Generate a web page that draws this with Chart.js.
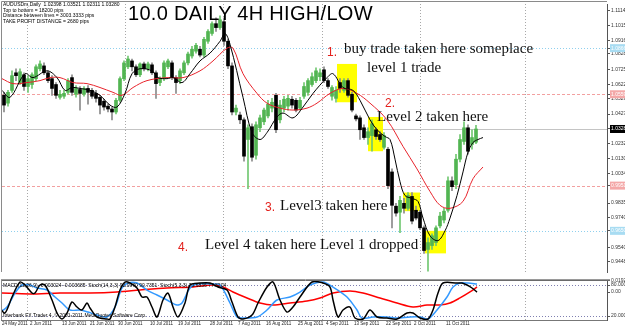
<!DOCTYPE html>
<html><head><meta charset="utf-8">
<script src="https://cdn.jsdelivr.net/npm/chart.js@4.4.1/dist/chart.umd.min.js"></script>
<style>
html,body{margin:0;padding:0;background:#fff;width:625px;height:328px;overflow:hidden;position:relative}
canvas{position:absolute;left:0}
#c1{top:0}
#c2{top:276px}
.t{position:absolute;white-space:nowrap}
.info{font:5px "Liberation Sans",Arial,sans-serif;color:#000;line-height:6px;left:3px}
.ser{font:15px "Liberation Serif","Times New Roman",serif;color:#111;line-height:15px}
.num{font:12px "Liberation Sans",Arial,sans-serif;color:#e3201c;line-height:12px}
.ttl{font:20px "Liberation Sans",Arial,sans-serif;color:#000;line-height:20px;letter-spacing:0.3px}
</style></head>
<body>
<canvas id="c1" width="625" height="276" style="width:625px;height:276px"></canvas>
<canvas id="c2" width="625" height="52" style="width:625px;height:52px"></canvas>

<div class="t info" style="top:1px">AUDUSDm,Daily&nbsp; 1.02398 1.03521 1.02311 1.03280</div>
<div class="t info" style="top:7px">Top to bottom = 18200 pips</div>
<div class="t info" style="top:12px">Distance between lines = 3003.3333 pips</div>
<div class="t info" style="top:18px">TAKE PROFIT DISTANCE = 2680 pips</div>
<div class="t ttl" style="left:128px;top:3px">10.0 DAILY 4H HIGH/LOW</div>
<div class="t num" style="left:327px;top:46px">1.</div>
<div class="t ser" style="left:344px;top:41px">buy trade taken here someplace</div>
<div class="t ser" style="left:367px;top:60px">level 1 trade</div>
<div class="t num" style="left:385px;top:97px">2.</div>
<div class="t ser" style="left:377px;top:109px">Level 2 taken here</div>
<div class="t num" style="left:265px;top:201px">3.</div>
<div class="t ser" style="left:280px;top:198px">Level3 taken here</div>
<div class="t num" style="left:178px;top:241px">4.</div>
<div class="t ser" style="left:205px;top:237px">Level 4 taken here Level 1 dropped</div>
<div class="t info" style="top:282px">MACD(12,26,9) -0.003024 -0.003685&nbsp; Stoch(14,3,3) 92.0970 90.7351&nbsp; Stoch(5,3,3) 73.6836 77.8204</div>
<div class="t info" style="top:312px">Interbank FX Trader 4, © 2001-2011 MetaQuotes Software Corp.</div>

<script>
// ---------- data ----------
const dateLabels = ['24 May 2011','2 Jun 2011','13 Jun 2011','21 Jun 2011','30 Jun 2011','10 Jul 2011','19 Jul 2011','28 Jul 2011','7 Aug 2011','16 Aug 2011','25 Aug 2011','4 Sep 2011','13 Sep 2011','22 Sep 2011','2 Oct 2011','11 Oct 2011'];
const dateBars = [0,7,15,22,29,37,44,52,59,66,74,81,88,96,103,111];

const open = [1.0552,1.0500,1.0585,1.0702,1.0637,1.0689,1.0611,1.0624,1.0663,1.0729,
1.0748,1.0702,1.0663,1.0624,1.0539,1.0546,1.0572,1.0670,1.0559,1.0591,
1.0559,1.0598,1.0585,1.0565,1.0539,1.0513,1.0480,1.0461,1.0441,1.0519,
1.0663,1.0742,1.0781,1.0742,1.0689,1.0761,1.0729,1.0755,1.0702,1.0637,
1.0663,1.0742,1.0768,1.0670,1.0650,1.0702,1.0768,1.0814,1.0846,1.0859,
1.0820,1.0912,1.0964,1.1029,1.1003,1.1042,1.0912,1.0748,1.0441,1.0421,
1.0389,1.0258,1.0343,1.0153,1.0336,1.0376,1.0415,1.0467,1.0552,1.0389,
1.0467,1.0480,1.0526,1.0519,1.0467,1.0546,1.0572,1.0624,1.0650,1.0676,
1.0722,1.0650,1.0546,1.0532,1.0637,1.0585,1.0650,1.0559,1.0415,1.0402,
1.0336,1.0271,1.0284,1.0323,1.0291,1.0206,1.0193,1.0042,0.9814,0.9774,
0.9833,0.9800,0.9879,0.9787,0.9774,0.9670,0.9526,0.9552,0.9572,0.9683,
0.9722,0.9787,0.9983,0.9957,1.0127,1.0245,1.0336,1.0225,1.0240];
const high = [1.0572,1.0585,1.0715,1.0729,1.0729,1.0702,1.0683,1.0702,1.0755,1.0781,
1.0768,1.0715,1.0683,1.0637,1.0585,1.0585,1.0663,1.0689,1.0617,1.0611,
1.0611,1.0617,1.0598,1.0585,1.0552,1.0526,1.0493,1.0474,1.0532,1.0676,
1.0781,1.0814,1.0794,1.0755,1.0768,1.0774,1.0774,1.0768,1.0715,1.0676,
1.0781,1.0794,1.0781,1.0683,1.0729,1.0781,1.0840,1.0879,1.0898,1.0879,
1.0938,1.0990,1.1042,1.1068,1.1082,1.1068,1.0925,1.0768,1.0487,1.0441,
1.0402,1.0356,1.0363,1.0376,1.0421,1.0467,1.0519,1.0532,1.0565,1.0519,
1.0546,1.0552,1.0546,1.0532,1.0539,1.0637,1.0663,1.0702,1.0735,1.0729,
1.0742,1.0663,1.0617,1.0611,1.0663,1.0663,1.0663,1.0572,1.0428,1.0415,
1.0356,1.0336,1.0389,1.0336,1.0310,1.0304,1.0206,1.0062,0.9833,0.9879,
0.9866,0.9905,0.9905,0.9814,0.9787,0.9683,0.9604,0.9630,0.9683,0.9774,
0.9800,1.0010,1.0010,1.0160,1.0291,1.0376,1.0356,1.0323,1.0352];
const low = [1.0441,1.0480,1.0572,1.0650,1.0624,1.0585,1.0572,1.0598,1.0650,1.0715,
1.0689,1.0637,1.0552,1.0532,1.0526,1.0532,1.0559,1.0552,1.0539,1.0454,
1.0546,1.0493,1.0532,1.0506,1.0428,1.0454,1.0441,1.0389,1.0428,1.0506,
1.0650,1.0729,1.0715,1.0676,1.0676,1.0715,1.0715,1.0689,1.0532,1.0617,
1.0650,1.0729,1.0657,1.0565,1.0630,1.0689,1.0755,1.0800,1.0833,1.0807,
1.0807,1.0898,1.0951,1.0977,1.0990,1.0885,1.0729,1.0421,1.0421,1.0363,
1.0114,0.9931,1.0114,1.0127,1.0310,1.0356,1.0402,1.0441,1.0304,1.0369,
1.0441,1.0454,1.0467,1.0441,1.0454,1.0532,1.0552,1.0611,1.0637,1.0650,
1.0637,1.0598,1.0519,1.0506,1.0572,1.0572,1.0539,1.0441,1.0382,1.0258,
1.0258,1.0225,1.0180,1.0258,1.0245,1.0193,0.9931,0.9670,0.9748,0.9637,
0.9768,0.9787,0.9696,0.9722,0.9657,0.9500,0.9382,0.9526,0.9552,0.9670,
0.9702,0.9774,0.9918,0.9931,1.0108,1.0225,1.0160,1.0193,1.0231];
const close = [1.0487,1.0572,1.0683,1.0683,1.0709,1.0611,1.0663,1.0689,1.0742,1.0761,
1.0702,1.0650,1.0598,1.0552,1.0559,1.0565,1.0650,1.0572,1.0598,1.0565,
1.0598,1.0572,1.0546,1.0532,1.0487,1.0474,1.0461,1.0441,1.0519,1.0663,
1.0768,1.0794,1.0742,1.0689,1.0761,1.0729,1.0761,1.0702,1.0630,1.0663,
1.0768,1.0781,1.0670,1.0637,1.0715,1.0768,1.0827,1.0859,1.0885,1.0820,
1.0925,1.0977,1.1029,1.1003,1.1055,1.0912,1.0748,1.0441,1.0467,1.0389,
1.0147,1.0336,1.0140,1.0356,1.0402,1.0454,1.0493,1.0506,1.0323,1.0487,
1.0526,1.0532,1.0487,1.0454,1.0519,1.0611,1.0650,1.0676,1.0715,1.0702,
1.0650,1.0611,1.0604,1.0585,1.0598,1.0650,1.0552,1.0454,1.0395,1.0323,
1.0271,1.0310,1.0363,1.0278,1.0258,1.0284,0.9951,0.9820,0.9768,0.9853,
0.9800,0.9885,0.9715,0.9735,0.9670,0.9519,0.9572,0.9617,0.9670,0.9748,
0.9781,0.9983,0.9944,1.0127,1.0258,1.0336,1.0180,1.0271,1.0328];

// moving averages, read as [bar, price]
const maFast = [[-0.5,1.0585],[1.5,1.0539],[5.25,1.0696],[7.25,1.0670],[10.75,1.0715],[13.25,1.0670],[15.25,1.0585],[17,1.0604],[19,1.0598],[21.5,1.0585],[24,1.0552],[26.5,1.0487],[28.25,1.0474],[30.25,1.0565],[32,1.0696],[34,1.0729],[37,1.0715],[38.5,1.0670],[40.75,1.0663],[42.25,1.0670],[44.5,1.0637],[46.5,1.0696],[49,1.0781],[51.5,1.0833],[54,1.0912],[55.25,1.0964],[56.5,1.0892],[59.75,1.0539],[62,1.0304],[64,1.0258],[65.75,1.0304],[68.25,1.0408],[69.75,1.0434],[72.25,1.0402],[74.75,1.0474],[77.25,1.0565],[80.75,1.0670],[82.25,1.0696],[84.75,1.0604],[87.25,1.0585],[89,1.0519],[91.5,1.0389],[93.25,1.0323],[95.25,1.0278],[96.5,1.0258],[97.75,1.0127],[99,0.9977],[100.25,0.9885],[102,0.9866],[103.5,0.9846],[104.75,0.9735],[106.5,0.9617],[108.5,0.9585],[110.25,0.9650],[111.5,0.9735],[113.25,0.9885],[114.75,1.0042],[116,1.0173],[117.25,1.0238],[118.5,1.0258],[119.75,1.0271]];
const maSlow = [[-0.5,1.0663],[2.25,1.0630],[5.75,1.0637],[9,1.0650],[11.5,1.0670],[14,1.0670],[17.25,1.0637],[20.75,1.0630],[24,1.0604],[27.25,1.0572],[29.5,1.0552],[32.25,1.0604],[35.75,1.0650],[40.75,1.0670],[44.75,1.0670],[49,1.0715],[52.25,1.0781],[55.75,1.0866],[57.25,1.0866],[59.75,1.0696],[63.25,1.0565],[65.75,1.0500],[69,1.0467],[72.25,1.0454],[75.75,1.0467],[78.25,1.0500],[81.5,1.0565],[84.75,1.0598],[88.25,1.0565],[91.5,1.0500],[95.75,1.0389],[99.75,1.0212],[103.25,1.0062],[106.5,0.9912],[109,0.9820],[111.5,0.9800],[114.75,0.9846],[117.25,0.9997],[119.75,1.0075]];

// horizontal level lines and price-axis ticks
const levelPrices = [1.0866, 1.0559, 1.0328, 0.9951, 0.9650];
const priceTicks = [1.1114,1.1015,1.0916,1.0828,1.0725,1.0622,1.0529,1.0427,1.0232,1.0130,1.0034,0.9835,0.9740,0.9540,0.9448];

// highlighted zones: [first bar, last bar] and [top price, bottom price]
const zoneBars = [[83.25,88.25],[91,94.75],[99.75,104],[105.25,110.5]];
const zonePrices = [[1.0761,1.0506],[1.0408,1.0180],[0.9905,0.9781],[0.9650,0.9500]];

// indicator window
const stochMain = [[-1,35.5],[0.25,25.8],[2,56.8],[4,85.8],[5.25,80],[7,64.5],[7.75,64.5],[9,80],[10.25,80],[12,51],[13.25,25.8],[14.5,14.2],[15.75,25.8],[17,47.1],[18.25,37.4],[19.5,31.6],[20.75,45.2],[21.5,35.5],[23.25,18.1],[25.75,14.2],[26.5,14.2],[27.75,37.4],[29,70.3],[30.25,85.8],[31.5,83.9],[33.25,74.2],[34.5,56.8],[35.75,56.8],[37,37.4],[38.25,18.1],[39.75,51],[41,64.5],[42.25,37.4],[43.5,18.1],[45.25,45.2],[46.5,80],[49,83.9],[51.5,83.9],[53.5,76.1],[55.75,70.3],[57,47.1],[58.5,18.1],[59.75,14.2],[62,21.9],[63.5,45.2],[65.75,76.1],[67.25,85.8],[69,51],[70.75,27.7],[72.25,37.4],[74,56.8],[77,85.8],[79.75,83.9],[81.5,76.1],[82.25,51],[83.5,18.1],[84.75,31.6],[86.5,37.4],[87.75,16.1],[89.75,14.2],[91.5,31.6],[93.25,18.1],[95.75,16.1],[98.25,14.2],[100.75,25.8],[102.25,25.8],[104,16.1],[106,14.2],[107.25,31.6],[108.5,64.5],[109.75,83.9],[113.25,83.9],[114.5,83.9],[115.75,80],[117,74.2],[118.25,66.4]];
const stochSignal = [[-1,27.7],[0.75,37.4],[2.75,64.5],[4.5,80],[6.5,80],[8.25,74.2],[10.75,70.3],[12.75,56.8],[14.5,45.2],[16.5,31.6],[19,31.6],[21,27.7],[23.25,21.9],[25.75,18.1],[27.75,37.4],[29.5,74.2],[31,83.9],[33.25,83.9],[35.75,70.3],[38.25,60.6],[40.75,51],[43.25,41.3],[44.5,45.2],[46.5,74.2],[48.25,82],[51.5,82],[54,80],[56.5,45.2],[58.25,18.1],[59.75,16.1],[63.25,18.1],[65.75,31.6],[68.25,51],[71.5,56.8],[74,66.4],[76.5,80],[79.75,85.8],[82.25,76.1],[85.75,56.8],[88.25,31.6],[89.5,16.1],[92.25,18.1],[95.75,18.1],[98.25,16.1],[101.5,18.1],[104,18.1],[106,14.2],[108.25,31.6],[110.75,56.8],[112.25,76.1],[114,83.9],[116,83.9],[118.25,82]];
const macdLine = [[-1,-0.0014],[6.5,-0.0027],[14,-0.0014],[21.5,-0.0014],[28.25,0.0000],[34,0.0027],[40.75,0.0055],[47.25,0.0069],[52.25,0.0096],[54.75,0.0069],[57.25,0.0000],[60.75,-0.0082],[64,-0.0151],[67.25,-0.0178],[71.5,-0.0151],[75.75,-0.0123],[79,-0.0082],[82.25,-0.0014],[86.5,0.0014],[89.75,-0.0014],[94,-0.0082],[98.25,-0.0151],[102.25,-0.0206],[105.75,-0.0178],[109,-0.0178],[111.5,-0.0151],[114,-0.0082],[116.5,0.0000],[118.25,0.0069]];
const indTickValues = [89.0, 80, 66.4, 20];
const indTickLabels = ['0.01920','80.0000','0.00','20.0000'];
const stochLevels = [80, 20];

// ---------- styling / layout (not data) ----------
const gridBars = [5.75, 30.25, 54.75, 79.5, 104, 130.25];
const FONT = 'Liberation Sans';
const levelStyles = [
  {color:'#8fd0ee', dash:[1,2], box:'#a8dcf2'},
  {color:'#f2a0a0', dash:[3,2], box:'#f4a8a8'},
  {color:'#c4c4c4', dash:[], box:'#000000'},
  {color:'#f2a0a0', dash:[3,2], box:'#f4a8a8'},
  {color:'#8fd0ee', dash:[1,2], box:'#a8dcf2'}
];
const BULL = '#52b552', BEAR = '#000000';
const lvlIdx = v => levelPrices.findIndex(p => Math.abs(p - v) < 1e-9);
const pts = arr => arr.map(p => ({x:p[0], y:p[1]}));
const isBull = i => close[i] >= open[i];

const mainOverlay = {
  id:'mainOverlay',
  beforeDatasetsDraw(chart){
    const {ctx, chartArea:a, scales:{x, y}} = chart;
    ctx.save();
    ctx.beginPath(); ctx.rect(a.left, a.top, a.right - a.left, a.bottom - a.top); ctx.clip();
    levelPrices.forEach((p, i) => {
      const st = levelStyles[i];
      const py = Math.round(y.getPixelForValue(p)) + 0.5;
      ctx.strokeStyle = st.color; ctx.lineWidth = 1; ctx.setLineDash(st.dash);
      ctx.beginPath(); ctx.moveTo(a.left, py); ctx.lineTo(a.right, py); ctx.stroke();
    });
    ctx.setLineDash([]);
    ctx.fillStyle = '#ffff00';
    zoneBars.forEach((b, i) => {
      const x0 = x.getPixelForValue(b[0]), x1 = x.getPixelForValue(b[1]);
      const y0 = y.getPixelForValue(zonePrices[i][0]), y1 = y.getPixelForValue(zonePrices[i][1]);
      ctx.fillRect(x0, y0, x1 - x0, y1 - y0);
    });
    ctx.restore();
  },
  afterDraw(chart){
    const {ctx, chartArea:a} = chart;
    ctx.save();
    ctx.strokeStyle = '#8a8a8a'; ctx.lineWidth = 1;
    ctx.beginPath(); ctx.moveTo(1.5, a.bottom); ctx.lineTo(1.5, 1.5); ctx.lineTo(a.right, 1.5); ctx.stroke();
    ctx.restore();
  }
};

const indOverlay = {
  id:'indOverlay',
  beforeDatasetsDraw(chart){
    const {ctx, chartArea:a, scales} = chart;
    const ys = scales.ys;
    ctx.save();
    ctx.strokeStyle = '#7f7fb0'; ctx.lineWidth = 1; ctx.setLineDash([1,2]);
    stochLevels.forEach(v => {
      const py = Math.round(ys.getPixelForValue(v)) + 0.5;
      ctx.beginPath(); ctx.moveTo(a.left, py); ctx.lineTo(a.right, py); ctx.stroke();
    });
    ctx.restore();
  },
  afterDraw(chart){
    const {ctx, chartArea:a, scales} = chart;
    ctx.save();
    ctx.lineWidth = 1;
    ctx.strokeStyle = '#9a9a9a';
    ctx.beginPath(); ctx.moveTo(1, a.top - 0.5); ctx.lineTo(a.right + 3, a.top - 0.5); ctx.stroke();
    ctx.strokeStyle = '#6a6a6a';
    ctx.beginPath(); ctx.moveTo(1, a.top + 0.5); ctx.lineTo(a.right + 3, a.top + 0.5); ctx.stroke();
    ctx.strokeStyle = '#777';
    ctx.beginPath(); ctx.moveTo(1, a.bottom + 0.5); ctx.lineTo(a.right, a.bottom + 0.5); ctx.stroke();
    ctx.strokeStyle = '#8a8a8a';
    ctx.beginPath(); ctx.moveTo(1.5, a.top); ctx.lineTo(1.5, a.bottom); ctx.stroke();
    // date labels along the time scale
    const x = scales.x;
    ctx.fillStyle = '#222';
    ctx.font = '4.5px "Liberation Sans", Arial, sans-serif';
    ctx.textAlign = 'left'; ctx.textBaseline = 'top';
    dateBars.forEach((b, i) => {
      ctx.fillText(dateLabels[i], Math.round(x.getPixelForValue(b)) - 2, a.bottom + 2);
    });
    ctx.restore();
  }
};

const gridX = {
  type:'linear', min:-0.5, max:150.75, offset:false,
  afterBuildTicks(s){ s.ticks = gridBars.map(v => ({value:v})); },
  afterFit(s){ s.height = 0; },
  ticks:{display:false},
  grid:{color:'#a8a8a8', drawTicks:false, offset:false, lineWidth:1},
  border:{display:false, dash:[1,2]}
};

new Chart(document.getElementById('c1'), {
  type:'bar',
  data:{datasets:[
    {type:'line', label:'MA fast', data:pts(maFast), borderColor:'#000', borderWidth:1, pointRadius:0, tension:0.35, order:0},
    {type:'line', label:'MA slow', data:pts(maSlow), borderColor:'#e8242c', borderWidth:1, pointRadius:0, tension:0.35, order:0},
    {type:'bar', label:'body', data:open.map((o, i) => ({x:i, y:[o, close[i]]})), barThickness:3, minBarLength:1, grouped:false,
      backgroundColor:c => isBull(c.dataIndex) ? BULL : BEAR, borderWidth:0, order:1},
    {type:'bar', label:'wick', data:low.map((l, i) => ({x:i, y:[l, high[i]]})), barThickness:1, grouped:false,
      backgroundColor:c => isBull(c.dataIndex) ? '#72c872' : '#8a8a8a', borderWidth:0, order:2}
  ]},
  options:{
    responsive:false, animation:false, events:[],
    layout:{padding:{left:2, top:2, right:0, bottom:1}},
    plugins:{legend:{display:false}, tooltip:{enabled:false}},
    scales:{
      x:gridX,
      y:{type:'linear', position:'right', min:0.9376, max:1.1160,
        afterBuildTicks(s){ s.ticks = priceTicks.concat(levelPrices).map(v => ({value:v})); },
        afterFit(s){ s.width = 18; },
        grid:{drawOnChartArea:false, drawTicks:true, tickLength:3, color:'#555'},
        border:{display:true, color:'#555'},
        ticks:{autoSkip:false, padding:1, font:{size:5, family:FONT},
          color:c => lvlIdx(c.tick.value) >= 0 ? '#fff' : '#333',
          callback:v => Number(v).toFixed(5),
          showLabelBackdrop:c => lvlIdx(c.tick.value) >= 0,
          backdropColor:c => { const i = lvlIdx(c.tick.value); return i >= 0 ? levelStyles[i].box : 'rgba(0,0,0,0)'; },
          backdropPadding:{top:1, bottom:1, left:1, right:4}}
      }
    }
  },
  plugins:[mainOverlay]
});

new Chart(document.getElementById('c2'), {
  type:'line',
  data:{datasets:[
    {label:'Stoch(5,3,3)', yAxisID:'ys', data:pts(stochMain), borderColor:'#000', borderWidth:1.5, pointRadius:0, tension:0.3},
    {label:'Stoch(14,3,3)', yAxisID:'ys', data:pts(stochSignal), borderColor:'#3399ff', borderWidth:1.5, pointRadius:0, tension:0.3},
    {label:'MACD(12,26,9)', yAxisID:'ym', data:pts(macdLine), borderColor:'#ff0000', borderWidth:1.5, pointRadius:0, tension:0.3}
  ]},
  options:{
    responsive:false, animation:false, events:[],
    layout:{padding:{left:2, top:4, right:0, bottom:0}},
    plugins:{legend:{display:false}, tooltip:{enabled:false}},
    scales:{
      x:{type:'linear', position:'bottom', min:-0.5, max:150.75, offset:false,
        afterBuildTicks(s){ s.ticks = dateBars.map(v => ({value:v})); },
        afterFit(s){ s.height = 8; },
        grid:{display:false, offset:false},
        border:{display:false},
        ticks:{display:false}
      },
      xg:Object.assign({}, gridX, {position:'bottom'}),
      ys:{type:'linear', position:'right', min:12.3, max:89.7,
        afterBuildTicks(s){ s.ticks = indTickValues.map(v => ({value:v})); },
        afterFit(s){ s.width = 18; },
        grid:{drawOnChartArea:false, drawTicks:true, tickLength:3, color:'#555'},
        border:{display:true, color:'#555'},
        ticks:{autoSkip:false, padding:1, font:{size:5, family:FONT}, color:'#333',
          callback:(v, i) => indTickLabels[i]}
      },
      ym:{type:'linear', display:false, min:-0.0384, max:0.0164}
    }
  },
  plugins:[indOverlay]
});
</script>
</body></html>
